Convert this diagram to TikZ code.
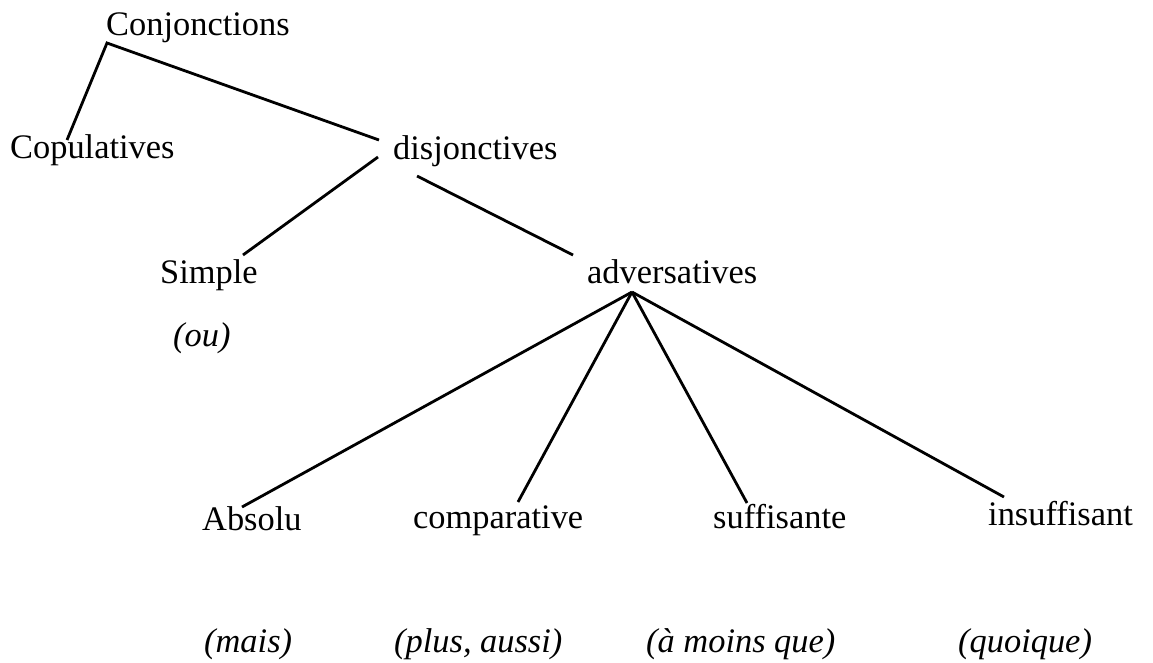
\documentclass[tikz,border=0pt]{standalone}
\usepackage{fontspec}
\setmainfont{Liberation Serif}
\begin{document}
\begin{tikzpicture}[x=1pt,y=-1pt,
  lbl/.style={anchor=base west,inner sep=0pt,font=\fontsize{34.4}{40}\selectfont},
  ex/.style={anchor=base west,inner sep=0pt,font=\fontsize{34.4}{40}\selectfont\itshape},
  edge/.style={line width=2.8pt}]
\useasboundingbox[fill=white] (0,0) rectangle (1153,662);
% labels
\node[lbl] (conj) at (106,35) {Conjonctions};
\node[lbl] (cop) at (10,158) {Copulatives};
\node[lbl] (disj) at (393,159) {disjonctives};
\node[lbl] (simple) at (160,283) {Simple};
\node[ex] (ou) at (173,346) {(ou)};
\node[lbl] (adv) at (587,283) {adversatives};
\node[lbl] (abs) at (202,530) {Absolu};
\node[lbl] (comp) at (413,528) {comparative};
\node[lbl] (suff) at (713,528) {suffisante};
\node[lbl] (insuff) at (988,525) {insuffisant};
\node[ex] (mais) at (204,652) {(mais)};
\node[ex] (plus) at (394,652) {(plus, aussi)};
\node[ex] (moins) at (646,652) {(à moins que)};
\node[ex] (quoique) at (958,652) {(quoique)};
% connectors
\coordinate (conjapex) at ([shift={(1,8)}]conj.base west);
\coordinate (advapex) at ([shift={(45,9)}]adv.base west);
\draw[edge] ([shift={(57,-18)}]cop.base west) -- (conjapex) -- ([shift={(-14,-19)}]disj.base west);
\draw[edge] ([shift={(-15,-2)}]disj.base west) -- ([shift={(83,-28)}]simple.base west);
\draw[edge] ([shift={(24,17)}]disj.base west) -- ([shift={(-14,-28)}]adv.base west);
\draw[edge] (advapex) -- ([shift={(40,-23)}]abs.base west);
\draw[edge] (advapex) -- ([shift={(105,-26)}]comp.base west);
\draw[edge] (advapex) -- ([shift={(34,-25)}]suff.base west);
\draw[edge] (advapex) -- ([shift={(16,-28)}]insuff.base west);
\end{tikzpicture}
\end{document}
